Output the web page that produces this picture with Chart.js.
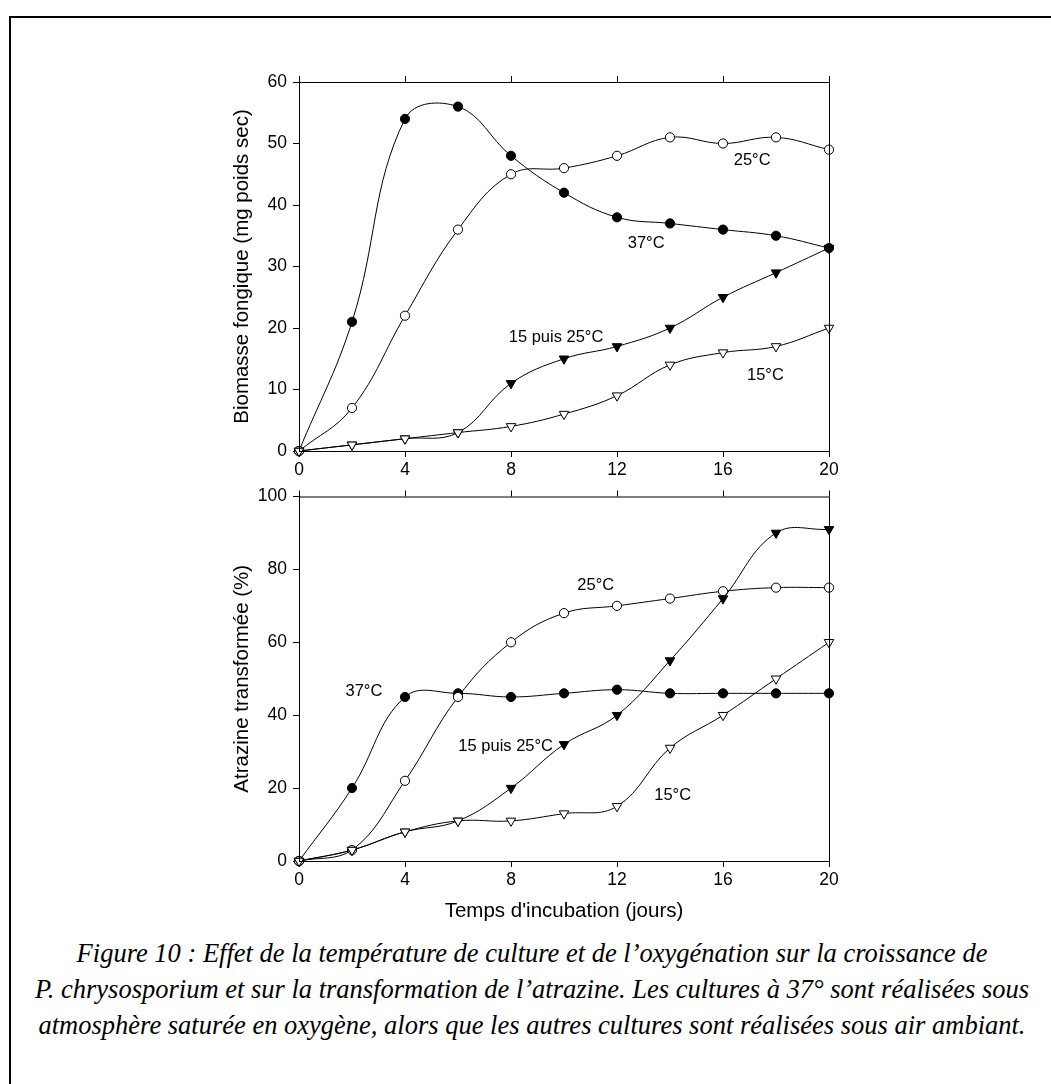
<!DOCTYPE html>
<html>
<head>
<meta charset="utf-8">
<script src="https://cdn.jsdelivr.net/npm/chart.js@4.4.0/dist/chart.umd.min.js"></script>
<style>
  body { margin: 0; background: #fff; width: 1051px; height: 1084px; overflow: hidden; position: relative; }
  #frame { position: absolute; left: 9px; top: 16px; width: 1200px; height: 1200px;
           border-left: 2px solid #000; border-top: 2px solid #000; }
  .box { position: absolute; left: 220px; width: 640px; }
  #caption { position: absolute; left: 0; width: 1064px; top: 935px; text-align: center;
             font-family: "Liberation Serif", "Times New Roman", serif; font-style: italic;
             font-size: 26.5px; line-height: 36px; color: #000; white-space: nowrap; }
</style>
</head>
<body>
<div id="frame"></div>
<div class="box" style="top:50px;height:440px"><canvas id="bioChart" width="640" height="440"></canvas></div>
<div class="box" style="top:480px;height:450px"><canvas id="atzChart" width="640" height="450"></canvas></div>
<div id="caption">Figure 10 : Effet de la température de culture et de l’oxygénation sur la croissance de<br>P. chrysosporium et sur la transformation de l’atrazine. Les cultures à 37° sont réalisées sous<br>atmosphère saturée en oxygène, alors que les autres cultures sont réalisées sous air ambiant.</div>

<script>
// --- Data ---
const days = [0, 2, 4, 6, 8, 10, 12, 14, 16, 18, 20];

// biomasse fongique (mg poids sec)
const bio37 = [0, 21, 54, 56, 48, 42, 38, 37, 36, 35, 33];
const bio25 = [0, 7, 22, 36, 45, 46, 48, 51, 50, 51, 49];
const bio15p25 = [0, 1, 2, 3, 11, 15, 17, 20, 25, 29, 33];
const bio15 = [0, 1, 2, 3, 4, 6, 9, 14, 16, 17, 20];

// atrazine transformée (%)
const atz37 = [0, 20, 45, 46, 45, 46, 47, 46, 46, 46, 46];
const atz25 = [0, 3, 22, 45, 60, 68, 70, 72, 74, 75, 75];
const atz15p25 = [0, 3, 8, 11, 20, 32, 40, 55, 72, 90, 91];
const atz15 = [0, 3, 8, 11, 11, 13, 15, 31, 40, 50, 60];

// curve labels [text, day, value]
const bioLabels = [["25°C", 17.1, 47.2], ["37°C", 13.1, 33.7], ["15 puis 25°C", 9.7, 18.4], ["15°C", 17.6, 12.3]];
const atzLabels = [["25°C", 11.2, 75.5], ["37°C", 2.45, 46.5], ["15 puis 25°C", 7.8, 31.5], ["15°C", 14.1, 18]];

const FONT = "'Liberation Sans', Arial, sans-serif";

function pts(vals) {
  return vals.map((v, i) => ({ x: days[i], y: v }));
}

function series(vals, shape, filled) {
  return {
    data: pts(vals),
    borderColor: "#000",
    borderWidth: 1,
    backgroundColor: filled ? "#000" : "#fff",
    pointStyle: shape,
    pointRotation: shape === "triangle" ? 180 : 0,
    pointRadius: shape === "triangle" ? 5.5 : 4.6,
    pointBorderWidth: 1,
    pointBorderColor: "#000",
    pointBackgroundColor: filled ? "#000" : "#fff",
    tension: 0.4,
    fill: false,
    clip: false,
  };
}

// box around plot + ticks on top edge + curve labels
const framePlugin = {
  id: "frame",
  afterDatasetsDraw(chart, args, opts) {
    const { ctx, chartArea: a, scales } = chart;
    ctx.save();
    ctx.strokeStyle = "#000";
    ctx.lineWidth = 1;
    ctx.strokeRect(a.left + 0.5, a.top + 0.5, a.right - a.left, a.bottom - a.top);
    ctx.beginPath();
    scales.x.ticks.forEach(t => {
      const px = Math.round(scales.x.getPixelForValue(t.value)) + 0.5;
      ctx.moveTo(px, a.top);
      ctx.lineTo(px, a.top - 6);
    });
    ctx.stroke();
    ctx.fillStyle = "#000";
    ctx.font = "16.5px " + FONT;
    ctx.textAlign = "center";
    ctx.textBaseline = "middle";
    opts.labels.forEach(([txt, d, v]) => {
      ctx.fillText(txt, scales.x.getPixelForValue(d), scales.y.getPixelForValue(v));
    });
    ctx.restore();
  },
};

function makeChart(id, datasets, yMax, yStep, yTitle, xTitle, labels, pad, xHeight) {
  return new Chart(document.getElementById(id), {
    type: "line",
    data: { datasets: datasets },
    plugins: [framePlugin],
    options: {
      responsive: false,
      devicePixelRatio: 1,
      animation: false,
      layout: { padding: pad },
      plugins: {
        legend: { display: false },
        tooltip: { enabled: false },
        frame: { labels: labels },
      },
      scales: {
        x: {
          type: "linear",
          min: 0,
          max: 20,
          afterFit: s => { s.height = xHeight; },
          ticks: { stepSize: 4, color: "#000", font: { family: FONT, size: 17.5 }, padding: 3, maxRotation: 0 },
          grid: { drawOnChartArea: false, drawTicks: true, tickLength: 6, color: "#000" },
          border: { display: true, color: "#000", width: 1 },
          title: { display: !!xTitle, text: xTitle, color: "#000", font: { family: FONT, size: 20.5 } },
        },
        y: {
          min: 0,
          max: yMax,
          afterFit: s => { s.width = 73; },
          ticks: { stepSize: yStep, color: "#000", font: { family: FONT, size: 17.5 }, padding: 6 },
          grid: { drawOnChartArea: false, drawTicks: true, tickLength: 6, color: "#000" },
          border: { display: true, color: "#000", width: 1 },
          title: { display: true, text: yTitle, color: "#000", font: { family: FONT, size: 20.5 } },
        },
      },
    },
  });
}

makeChart("bioChart",
  [series(bio15, "triangle", false), series(bio15p25, "triangle", true), series(bio25, "circle", false), series(bio37, "circle", true)],
  60, 10, "Biomasse fongique (mg poids sec)", "", bioLabels,
  { left: 6, right: 31, top: 32, bottom: 9 }, 30);

makeChart("atzChart",
  [series(atz15, "triangle", false), series(atz15p25, "triangle", true), series(atz25, "circle", false), series(atz37, "circle", true)],
  100, 20, "Atrazine transformée (%)", "Temps d'incubation (jours)", atzLabels,
  { left: 6, right: 31, top: 13, bottom: 2 }, 67);
</script>
</body>
</html>
